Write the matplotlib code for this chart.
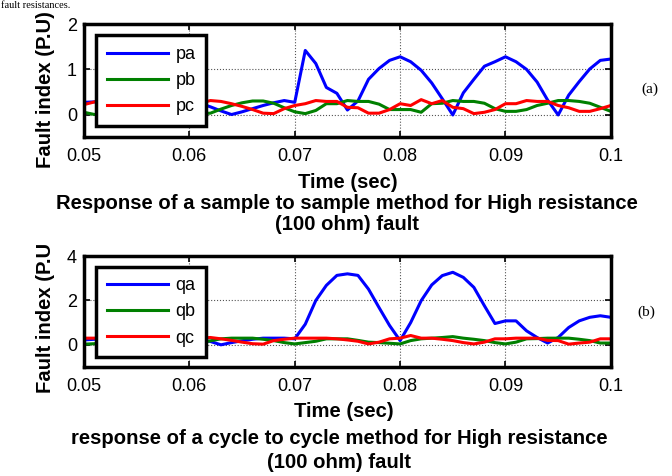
import numpy as np
import matplotlib
matplotlib.use('Agg')
import matplotlib.pyplot as plt

plt.rcParams['font.family'] = ['Liberation Sans', 'DejaVu Sans']

# time axis, 1 ms samples
t = np.round(np.arange(0.050, 0.1001, 0.001), 3)

# sample-to-sample method
pa = [0.27, 0.28, 0.30, 0.30, 0.28, 0.25, 0.22, 0.20, 0.22, 0.25,
      0.27, 0.25, 0.17, 0.08, 0.00, 0.06, 0.13, 0.20, 0.26, 0.31,
      0.27, 1.42, 1.13, 0.60, 0.47, 0.10, 0.30, 0.78, 1.02, 1.20,
      1.28, 1.17, 0.98, 0.70, 0.35, -0.01, 0.48, 0.78, 1.07, 1.17,
      1.28, 1.17, 1.00, 0.72, 0.32, -0.01, 0.43, 0.73, 1.01, 1.20,
      1.23]
pb = [0.05, 0.00, 0.05, 0.15, 0.25, 0.30, 0.30, 0.28, 0.20, 0.10,
      0.05, 0.02, 0.03, 0.12, 0.20, 0.26, 0.30, 0.30, 0.25, 0.15,
      0.06, 0.02, 0.09, 0.24, 0.24, 0.31, 0.29, 0.29, 0.23, 0.11,
      0.11, 0.11, 0.05, 0.24, 0.25, 0.31, 0.29, 0.29, 0.25, 0.13,
      0.07, 0.07, 0.11, 0.20, 0.25, 0.31, 0.31, 0.29, 0.25, 0.16,
      0.07]
pc = [0.22, 0.28, 0.31, 0.29, 0.28, 0.20, 0.13, 0.05, 0.03, 0.10,
      0.20, 0.25, 0.31, 0.29, 0.24, 0.18, 0.11, 0.03, 0.02, 0.13,
      0.20, 0.24, 0.31, 0.29, 0.29, 0.16, 0.15, 0.03, 0.03, 0.11,
      0.24, 0.20, 0.33, 0.24, 0.31, 0.16, 0.13, 0.02, 0.05, 0.11,
      0.24, 0.24, 0.31, 0.29, 0.29, 0.20, 0.15, 0.07, 0.07, 0.13,
      0.20]

# cycle-to-cycle method
qa = [0.22, 0.25, 0.28, 0.30, 0.30, 0.28, 0.20, 0.10, 0.05, 0.12,
      0.20, 0.22, 0.15, 0.00, 0.10, 0.18, 0.25, 0.30, 0.30, 0.30,
      0.27, 0.93, 2.00, 2.68, 3.13, 3.20, 3.13, 2.51, 1.68, 0.87,
      0.19, 1.00, 1.99, 2.70, 3.12, 3.27, 3.04, 2.59, 1.76, 0.96,
      1.08, 1.08, 0.63, 0.33, 0.08, 0.33, 0.78, 1.08, 1.24, 1.31,
      1.24]
qb = [0.03, 0.05, 0.12, 0.20, 0.27, 0.30, 0.30, 0.27, 0.20, 0.12,
      0.05, 0.08, 0.18, 0.27, 0.30, 0.30, 0.30, 0.25, 0.19, 0.10,
      0.04, 0.10, 0.16, 0.27, 0.27, 0.27, 0.20, 0.12, 0.10, 0.07,
      0.04, 0.19, 0.27, 0.30, 0.33, 0.37, 0.30, 0.25, 0.19, 0.10,
      0.04, 0.12, 0.27, 0.28, 0.30, 0.30, 0.30, 0.25, 0.19, 0.08,
      0.08]
qc = [0.30, 0.30, 0.33, 0.30, 0.27, 0.20, 0.12, 0.03, 0.05, 0.15,
      0.27, 0.30, 0.33, 0.27, 0.20, 0.12, 0.05, 0.03, 0.19, 0.25,
      0.30, 0.30, 0.30, 0.30, 0.27, 0.22, 0.16, 0.04, 0.12, 0.27,
      0.30, 0.42, 0.30, 0.30, 0.25, 0.19, 0.10, 0.04, 0.12, 0.27,
      0.27, 0.30, 0.30, 0.30, 0.20, 0.19, 0.03, 0.08, 0.12, 0.27,
      0.27]

xticks = [0.05, 0.06, 0.07, 0.08, 0.09, 0.1]
xticklabels = ['0.05', '0.06', '0.07', '0.08', '0.09', '0.1']

colors = ['#0000ff', '#008000', '#ff0000']
BOLD = dict(fontsize=14.6, fontweight='bold')


def style_axes(ax, ylim, yticks):
    ax.set_xlim(0.05, 0.1)
    ax.set_ylim(*ylim)
    ax.set_xticks(xticks)
    ax.set_xticklabels(xticklabels)
    ax.set_yticks(yticks)
    ax.tick_params(direction='in', top=True, right=True, length=4,
                   width=1.2, labelsize=13)
    ax.tick_params(axis='x', pad=8)
    ax.tick_params(axis='y', pad=5)
    ax.grid(True, linestyle=':', color='#555555', linewidth=0.8)
    for s in ax.spines.values():
        s.set_linewidth(2.5)


def draw_panel(ax, series, labels, ylim, yticks):
    for y, lab, c in zip(series, labels, colors):
        ax.plot(t, y, color=c, linewidth=2.2, label=lab)
    style_axes(ax, ylim, yticks)
    leg = ax.legend(loc='upper left', bbox_to_anchor=(0.023, 0.905),
                    fontsize=13, handlelength=3.4, labelspacing=0.5,
                    borderaxespad=0, fancybox=False, framealpha=1,
                    edgecolor='black', borderpad=0.6, handletextpad=0.4)
    leg.get_frame().set_linewidth(2.5)


fig = plt.figure(figsize=(6.72, 4.76), dpi=100)
ax1 = fig.add_axes([0.125, 0.712, 0.784, 0.237])
ax2 = fig.add_axes([0.125, 0.229, 0.784, 0.233])

draw_panel(ax1, [pa, pb, pc], ['pa', 'pb', 'pc'], (-0.5, 2), [0, 1, 2])
draw_panel(ax2, [qa, qb, qc], ['qa', 'qb', 'qc'], (-1, 4), [0, 2, 4])

xc = 0.125 + 0.784 / 2

# top panel labels
fig.text(0.067, 0.812, 'Fault index (P.U)', rotation=90, ha='center',
         va='center', **BOLD)
fig.text(xc, 0.6176, 'Time (sec)', ha='center', va='center', **BOLD)
fig.text(xc, 0.5504,
         'Response of a sample to sample method for High resistance\n(100 ohm) fault',
         ha='center', va='center', linespacing=1.15, **BOLD)

# bottom panel labels
fig.text(0.067, 0.332, 'Fault index (P.U', rotation=90, ha='center',
         va='center', **BOLD)
fig.text(xc - 0.006, 0.1345, 'Time (sec)', ha='center', va='center', **BOLD)
fig.text(xc - 0.012, 0.0536,
         'response of a cycle to cycle method for High resistance\n(100 ohm) fault',
         ha='center', va='center', linespacing=1.3, **BOLD)

fig.text(0.967, 0.813, '(a)', family='Liberation Serif', fontsize=11,
         ha='center', va='center')
fig.text(0.962, 0.345, '(b)', family='Liberation Serif', fontsize=11,
         ha='center', va='center')

# surrounding page text at the top edge
fig.text(0.002, 0.998, 'fault resistances.', family='Liberation Serif',
         fontsize=7.5, ha='left', va='top')

fig.savefig('out.png', dpi=100, facecolor='white')
